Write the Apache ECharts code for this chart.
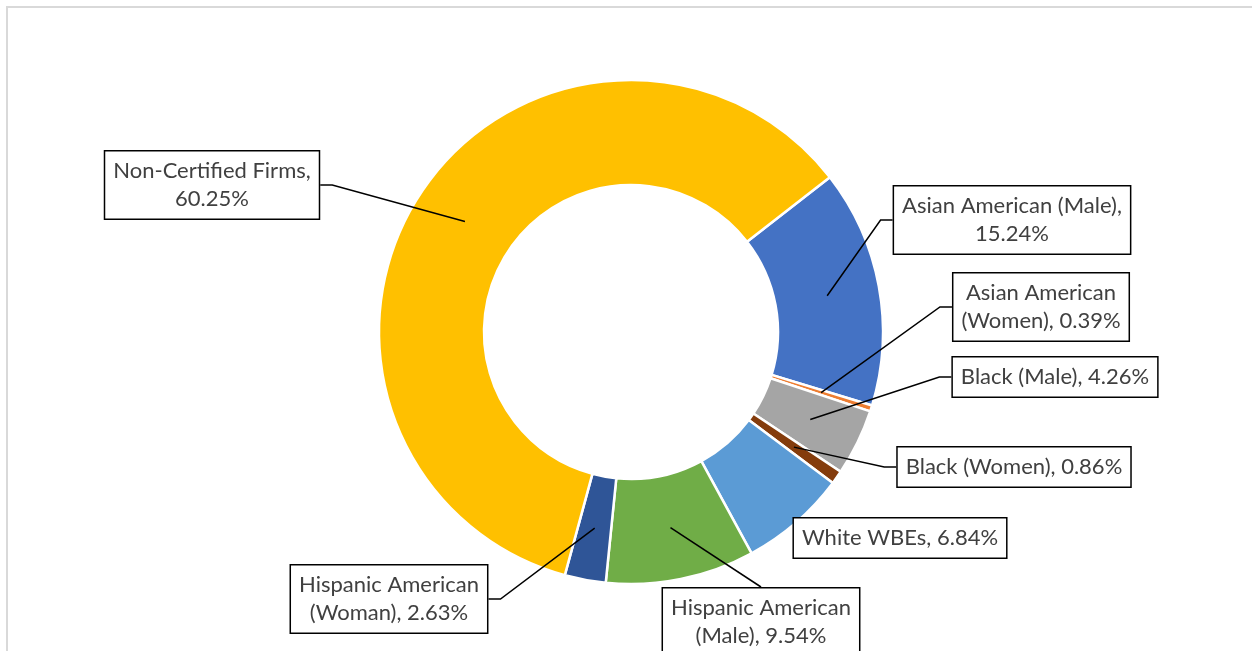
<!DOCTYPE html>
<html>
<head>
<meta charset="utf-8">
<script src="https://cdn.jsdelivr.net/npm/echarts@6/dist/echarts.min.js"></script>
<style>
html,body{margin:0;padding:0;background:#fff;}
#chart{width:1252px;height:651px;}
</style>
</head>
<body>
<div id="chart"></div>
<script>
// ---- data ----
const categories = [
  'Asian American (Male)',
  'Asian American (Women)',
  'Black (Male)',
  'Black (Women)',
  'White WBEs',
  'Hispanic American (Male)',
  'Hispanic American (Woman)',
  'Non-Certified Firms'
];
const shares = [15.24, 0.39, 4.26, 0.86, 6.84, 9.54, 2.63, 60.25];
const colors = ['#4472C4', '#ED7D31', '#A5A5A5', '#843C0C', '#5B9BD5', '#70AD47', '#2F5597', '#FFC000'];
// how each label wraps: 'comma' = break after the name, 'word2' = break after 2 words, null = one line
const labelBreaks = ['comma', 'word2', null, null, null, 'word2', 'word2', 'comma'];

// ---- layout (positions of label boxes, not data) ----
const CENTER = [631, 332];
const R_IN = 147, R_OUT = 252;
const START_CW = 52.1; // first slice starts at this angle, clockwise from 12 o'clock
const labelBoxes = [
  {x: 1012, y: 220, side: 'left'},
  {x: 1041, y: 307, side: 'left'},
  {x: 1055, y: 377, side: 'left'},
  {x: 1014, y: 467, side: 'left'},
  {x: 900,  y: 538, side: 'none'},
  {x: 761,  y: 622, side: 'top'},
  {x: 389,  y: 599, side: 'right'},
  {x: 212,  y: 185, side: 'right'}
];

function labelText(i) {
  const name = categories[i];
  const val = shares[i].toFixed(2) + '%';
  const b = labelBreaks[i];
  if (b === 'comma') return name + ',\n' + val;
  if (b === 'word2') {
    const w = name.split(' ');
    return w.slice(0, 2).join(' ') + '\n' + w.slice(2).join(' ') + ', ' + val;
  }
  return name + ', ' + val;
}

const total = shares.reduce((a, b) => a + b, 0);

const pieBase = {
  type: 'pie',
  center: CENTER,
  radius: [R_IN, R_OUT],
  startAngle: 90 - START_CW,
  clockwise: true,
  avoidLabelOverlap: false,
  emphasis: {disabled: true},
  silent: true
};

const chart = echarts.init(document.getElementById('chart'), null, {renderer: 'canvas'});
chart.setOption({
  animation: false,
  backgroundColor: '#ffffff',
  graphic: [{
    type: 'rect',
    shape: {x: 7, y: 7, width: 1300, height: 800},
    style: {fill: 'none', stroke: '#d9d9d9', lineWidth: 2},
    silent: true
  }],
  series: [
    Object.assign({}, pieBase, {
      z: 2,
      itemStyle: {borderColor: '#ffffff', borderWidth: 2.5},
      label: {show: false},
      labelLine: {show: false},
      data: categories.map((name, i) => ({name: name, value: shares[i], itemStyle: {color: colors[i]}}))
    }),
    Object.assign({}, pieBase, {
      z: 5,
      itemStyle: {color: 'rgba(0,0,0,0)', borderWidth: 0},
      label: {
        show: true,
        position: 'outside',
        formatter: p => labelText(p.dataIndex),
        fontFamily: 'Lato',
        fontSize: 22,
        lineHeight: 28,
        color: '#404040',
        align: 'center',
        backgroundColor: '#ffffff',
        borderColor: '#000000',
        borderWidth: 1.5,
        padding: [5, 8, 6, 8]
      },
      labelLine: {show: true, length: 10, length2: 10, lineStyle: {color: '#000000', width: 1.5}},
      labelLayout: function (p) {
        const i = p.dataIndex;
        const box = labelBoxes[i];
        const w = p.labelRect.width, h = p.labelRect.height;
        let cum = 0;
        for (let k = 0; k < i; k++) cum += shares[k];
        const mid = (START_CW + (cum + shares[i] / 2) / total * 360) * Math.PI / 180;
        const rm = (R_IN + R_OUT) / 2;
        const s = [CENTER[0] + rm * Math.sin(mid), CENTER[1] - rm * Math.cos(mid)];
        let pts = null;
        if (box.side === 'left') {
          const e = [box.x - w / 2, box.y];
          pts = [s, [e[0] - 12, e[1]], e];
        } else if (box.side === 'right') {
          const e = [box.x + w / 2, box.y];
          pts = [s, [e[0] + 12, e[1]], e];
        } else if (box.side === 'top') {
          const e = [box.x, box.y - h / 2];
          pts = [s, e, e];
        }
        const out = {x: box.x, y: box.y, align: 'center', verticalAlign: 'middle'};
        if (pts) out.labelLinePoints = pts;
        return out;
      },
      data: categories.map((name, i) => ({
        name: name,
        value: shares[i],
        labelLine: {show: labelBoxes[i].side !== 'none'}
      }))
    })
  ]
});
</script>
</body>
</html>
